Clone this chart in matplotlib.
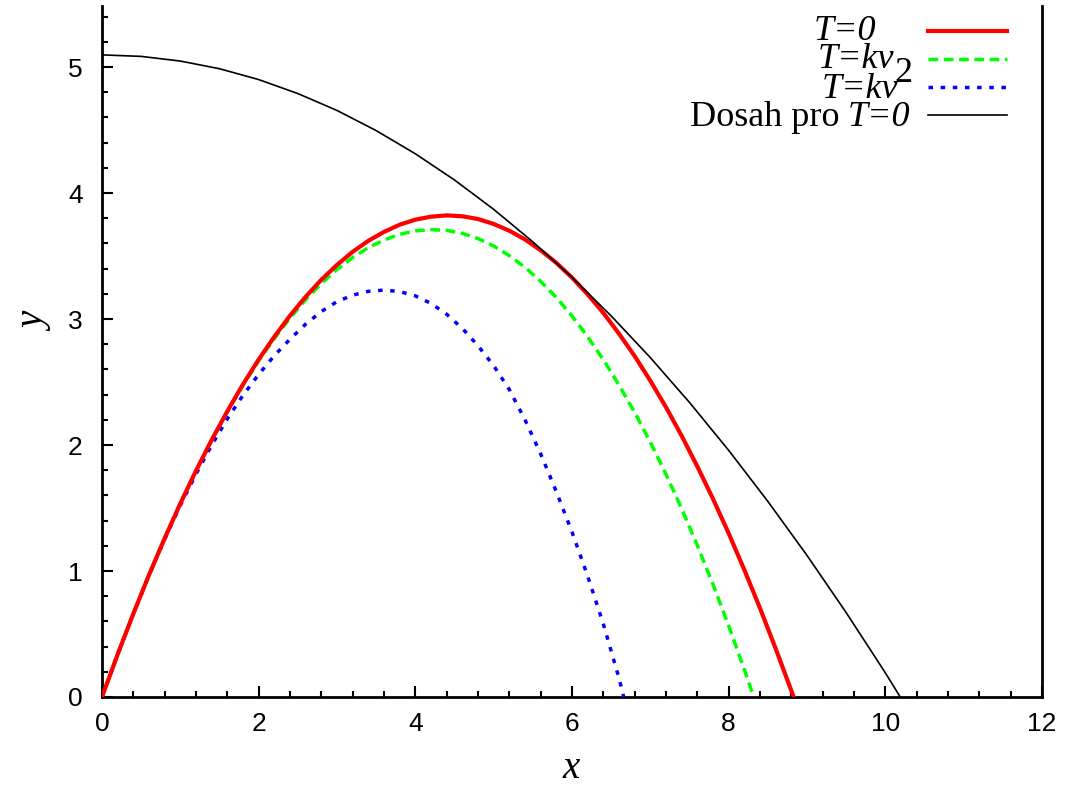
import matplotlib.pyplot as plt
from matplotlib.lines import Line2D
from matplotlib.ticker import MultipleLocator

# ---- data (x, y in plot units) ----
x_t0 = [0.0, 0.2, 0.4, 0.6, 0.8, 1.0, 1.2, 1.4, 1.6, 1.8, 2.0, 2.2, 2.4, 2.6,
        2.8, 3.0, 3.2, 3.4, 3.6, 3.8, 4.0, 4.2, 4.4, 4.6, 4.8, 5.0, 5.2, 5.4,
        5.6, 5.8, 6.0, 6.2, 6.4, 6.6, 6.8, 7.0, 7.2, 7.4, 7.6, 7.8, 8.0, 8.2,
        8.4, 8.6, 8.83]
y_t0 = [0.0, 0.339, 0.661, 0.969, 1.260, 1.536, 1.796, 2.040, 2.269, 2.482,
        2.679, 2.860, 3.027, 3.177, 3.312, 3.430, 3.534, 3.621, 3.692, 3.749,
        3.789, 3.813, 3.823, 3.816, 3.794, 3.755, 3.701, 3.632, 3.546, 3.446,
        3.329, 3.196, 3.049, 2.884, 2.706, 2.510, 2.300, 2.073, 1.830, 1.573,
        1.299, 1.009, 0.705, 0.384, 0.0]

x_kv = [0.0, 0.2, 0.4, 0.6, 0.8, 1.0, 1.2, 1.4, 1.6, 1.8, 2.0, 2.2, 2.4, 2.6,
        2.8, 3.0, 3.2, 3.4, 3.6, 3.8, 4.0, 4.2, 4.4, 4.6, 4.8, 5.0, 5.2, 5.4,
        5.6, 5.8, 6.0, 6.2, 6.4, 6.6, 6.8, 7.0, 7.2, 7.4, 7.6, 7.8, 8.0, 8.2,
        8.32]
y_kv = [0.0, 0.339, 0.661, 0.969, 1.259, 1.535, 1.794, 2.036, 2.263, 2.474,
        2.668, 2.845, 3.008, 3.153, 3.282, 3.393, 3.489, 3.567, 3.627, 3.673,
        3.700, 3.710, 3.704, 3.680, 3.639, 3.580, 3.503, 3.411, 3.299, 3.171,
        3.024, 2.859, 2.678, 2.476, 2.259, 2.022, 1.768, 1.495, 1.203, 0.894,
        0.565, 0.218, 0.0]

x_kv2 = [0.0, 0.2, 0.4, 0.6, 0.8, 1.0, 1.2, 1.4, 1.6, 1.8, 2.0, 2.2, 2.4, 2.6,
         2.8, 3.0, 3.2, 3.4, 3.6, 3.8, 4.0, 4.2, 4.4, 4.6, 4.8, 5.0, 5.2, 5.4,
         5.6, 5.8, 6.0, 6.2, 6.4, 6.6, 6.66]
y_kv2 = [0.0, 0.339, 0.660, 0.966, 1.253, 1.521, 1.770, 1.999, 2.208, 2.395,
         2.560, 2.710, 2.840, 2.960, 3.060, 3.138, 3.190, 3.220, 3.230, 3.218,
         3.184, 3.124, 3.038, 2.926, 2.788, 2.630, 2.440, 2.200, 1.930, 1.630,
         1.310, 0.960, 0.580, 0.150, 0.0]

x_dosah = [0.0, 0.5, 1.0, 1.5, 2.0, 2.5, 3.0, 3.5, 4.0, 4.5, 5.0, 5.5, 6.0,
           6.5, 7.0, 7.5, 8.0, 8.5, 9.0, 9.5, 10.0, 10.19]
y_dosah = [5.097, 5.085, 5.048, 4.987, 4.901, 4.790, 4.656, 4.496, 4.312,
           4.104, 3.871, 3.613, 3.331, 3.025, 2.694, 2.338, 1.958, 1.553,
           1.124, 0.670, 0.192, 0.0]

W, H = 1071, 787
fig = plt.figure(figsize=(W / 100, H / 100), dpi=100)
ax = fig.add_axes([102 / W, 1 - 697 / H, (1042 - 102) / W, (697 - 6) / H])

SERIF = ['Liberation Serif', 'DejaVu Serif']
RED, GREEN, BLUE = '#ff0000', '#00ff00', '#0000ff'
DASH_KV = (2.8, 1.6)
DOT_KV2 = (1.3, 2.2)

ax.plot(x_t0, y_t0, color=RED, lw=3.0, solid_joinstyle='round', zorder=4)
ax.plot(x_kv, y_kv, color=GREEN, lw=2.5, dashes=DASH_KV, zorder=3)
ax.plot(x_kv2, y_kv2, color=BLUE, lw=2.5, dashes=DOT_KV2, zorder=3)
ax.plot(x_dosah, y_dosah, color='black', lw=1.2, zorder=5)

ax.set_xlim(0, 12)
ax.set_ylim(0, 5.485)
ax.xaxis.set_major_locator(MultipleLocator(2))
ax.xaxis.set_minor_locator(MultipleLocator(0.4))
ax.yaxis.set_major_locator(MultipleLocator(1))
ax.yaxis.set_minor_locator(MultipleLocator(0.2))
ax.tick_params(which='both', direction='in', width=1.5, top=False, right=False,
               labelsize=19)
ax.tick_params(which='major', length=8)
ax.tick_params(which='minor', length=4)
ax.tick_params(axis='y', pad=14)
ax.tick_params(axis='x', pad=11)
for lab in ax.get_xticklabels() + ax.get_yticklabels():
    lab.set_family(['Liberation Sans', 'DejaVu Sans'])

ax.spines['top'].set_visible(False)
for s in ('left', 'bottom', 'right'):
    ax.spines[s].set_linewidth(2)

# axis labels
fig.text(571 / W, 1 - 768 / H, 'x', family=SERIF, style='italic', fontsize=28,
         ha='center', va='center')
fig.text(36 / W, 1 - 322 / H, 'y', family=SERIF, style='italic', fontsize=28,
         ha='center', va='center', rotation=90)

# ---- legend drawn by hand (gnuplot style key) ----
KEY_FS = 26


def key_text(xr, yc, s, **kw):
    return fig.text(xr / W, 1 - yc / H, s, family=SERIF, fontsize=KEY_FS,
                    ha='right', va='center', **kw)


key_text(876, 31, 'T=0', style='italic')
key_text(894, 60, 'T=kv', style='italic')
key_text(898, 90, 'T=kv', style='italic')
key_text(913, 73, '2')
t_last = key_text(910, 117, 'T=0', style='italic')
fig.canvas.draw()
x_left = t_last.get_window_extent().x0
key_text(x_left - 8, 117, 'Dosah pro')

samples = [(31, dict(color=RED, lw=3.0)),
           (59, dict(color=GREEN, lw=2.5, dashes=DASH_KV)),
           (87, dict(color=BLUE, lw=2.5, dashes=DOT_KV2)),
           (115, dict(color='black', lw=1.2))]
for yy, st in samples:
    fig.add_artist(Line2D([928 / W, 1007 / W], [1 - yy / H, 1 - yy / H],
                          transform=fig.transFigure, **st))

fig.savefig('out.png', dpi=100)
